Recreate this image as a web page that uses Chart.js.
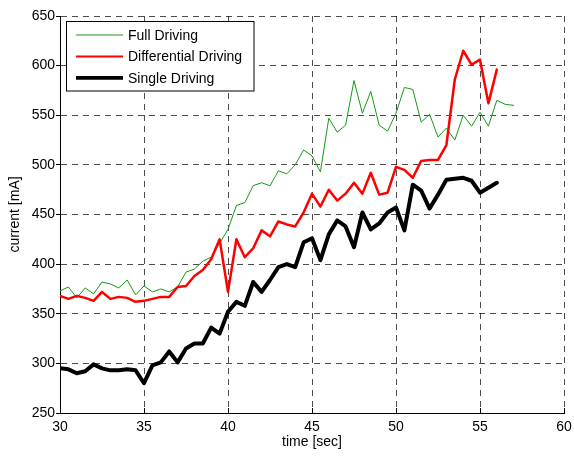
<!DOCTYPE html>
<html>
<head>
<meta charset="utf-8">
<script src="https://cdn.jsdelivr.net/npm/chart.js@4"></script>
<style>
  html, body { margin: 0; padding: 0; background: #fff; }
  canvas { display: block; }
</style>
</head>
<body>
<canvas id="chart" width="574" height="457"></canvas>
<script>
// time axis, 0.5 s sampling
const timeFull = [30, 30.5, 31, 31.5, 32, 32.5, 33, 33.5, 34, 34.5, 35, 35.5, 36, 36.5, 37, 37.5,
  38, 38.5, 39, 39.5, 40, 40.5, 41, 41.5, 42, 42.5, 43, 43.5, 44, 44.5, 45, 45.5, 46, 46.5, 47, 47.5,
  48, 48.5, 49, 49.5, 50, 50.5, 51, 51.5, 52, 52.5, 53, 53.5, 54, 54.5, 55, 55.5, 56, 56.5, 57];
const timeShort = timeFull.slice(0, 53); // 30 .. 56

// current [mA]
const fullDriving = [373, 377, 366, 376, 370, 382, 380, 376, 384, 369, 378, 372, 375, 372, 377, 392,
  395, 403, 407, 421, 435, 459, 462, 479, 482, 479, 494, 491, 500, 515, 509, 493, 547, 533, 540, 585,
  552, 574, 540, 534, 552, 578, 576, 543, 551, 528, 537, 525, 550, 539, 553, 539, 565, 561, 560];
const differentialDriving = [368, 365, 368, 366, 363, 372, 365, 367, 366, 362, 363, 365, 367, 367, 377, 378,
  388, 394, 405, 425, 372, 425, 407, 416, 434, 428, 443, 440, 438, 452, 471, 458, 475, 464, 471, 482,
  471, 492, 470, 472, 498, 495, 487, 504, 505, 505, 520, 586, 615, 601, 606, 562, 596];
const singleDriving = [295, 294, 290, 292, 299, 295, 293, 293, 294, 293, 280, 298, 301, 312, 301, 315,
  320, 320, 336, 330, 352, 362, 358, 382, 372, 384, 397, 400, 397, 422, 426, 404, 430, 444, 438, 417,
  452, 435, 441, 452, 457, 434, 480, 474, 456, 470, 485, 486, 487, 484, 472, 477, 482];

const xTickMin = 30, xTickMax = 60, xStep = 5;
const yTickMin = 250, yTickMax = 650, yStep = 50;

const FONT = "'Liberation Sans', Arial, Helvetica, sans-serif";

function toPoints(xs, ys) {
  return ys.map((y, i) => ({ x: xs[i], y: y }));
}

// MATLAB-like legend box in the upper left corner
const boxLegend = {
  id: 'boxLegend',
  afterDraw(chart) {
    const ctx = chart.ctx;
    const entries = [...chart.data.datasets].sort((a, b) => b.order - a.order);
    ctx.save();
    ctx.fillStyle = '#fff';
    ctx.fillRect(67, 22, 187, 69);
    ctx.strokeStyle = '#000';
    ctx.lineWidth = 1;
    ctx.strokeRect(66.5, 21.5, 187.5, 69.5);
    ctx.font = '14px ' + FONT;
    ctx.textBaseline = 'middle';
    ctx.textAlign = 'left';
    entries.forEach((ds, i) => {
      const y = 35 + i * 21.4;
      ctx.strokeStyle = ds.borderColor;
      ctx.lineWidth = ds.legendWidth;
      ctx.beginPath();
      ctx.moveTo(76, y);
      ctx.lineTo(123, y);
      ctx.stroke();
      ctx.fillStyle = '#000';
      ctx.fillText(ds.label, 128, y + 1);
    });
    ctx.restore();
  }
};

// short inward tick marks on the x axis
const innerTicks = {
  id: 'innerTicks',
  afterDraw(chart) {
    const ctx = chart.ctx;
    const xs = chart.scales.x;
    const bottom = chart.chartArea.bottom;
    ctx.save();
    ctx.strokeStyle = '#000';
    ctx.lineWidth = 1;
    xs.ticks.forEach(t => {
      const px = Math.round(xs.getPixelForValue(t.value)) + 0.5;
      ctx.beginPath();
      ctx.moveTo(px, bottom);
      ctx.lineTo(px, bottom - 5);
      ctx.stroke();
    });
    ctx.restore();
  }
};

new Chart(document.getElementById('chart').getContext('2d'), {
  type: 'line',
  data: {
    datasets: [
      {
        label: 'Full Driving',
        data: toPoints(timeFull, fullDriving),
        borderColor: '#159915',
        borderWidth: 1,
        legendWidth: 1,
        order: 3
      },
      {
        label: 'Differential Driving',
        data: toPoints(timeShort, differentialDriving),
        borderColor: '#ff0000',
        borderWidth: 2.5,
        legendWidth: 2,
        order: 2
      },
      {
        label: 'Single Driving',
        data: toPoints(timeShort, singleDriving),
        borderColor: '#000000',
        borderWidth: 4,
        legendWidth: 3.7,
        order: 1
      }
    ]
  },
  options: {
    responsive: false,
    animation: false,
    devicePixelRatio: 1,
    layout: { padding: { left: 0, right: 10, top: 16, bottom: 0 } },
    elements: {
      point: { radius: 0 },
      line: { tension: 0, borderJoinStyle: 'round', borderCapStyle: 'round', fill: false }
    },
    plugins: {
      legend: { display: false },
      tooltip: { enabled: false }
    },
    scales: {
      x: {
        type: 'linear',
        min: xTickMin,
        max: xTickMax,
        afterFit: s => { s.height = 44; s.paddingRight = 8; s.paddingLeft = 8; },
        ticks: {
          stepSize: xStep,
          color: '#000',
          padding: 6,
          maxRotation: 0,
          font: { family: FONT, size: 14 }
        },
        grid: {
          color: 'rgba(0,0,0,0.7)',
          lineWidth: 1,
          drawTicks: false
        },
        border: { display: true, color: '#000', width: 1, dash: [6, 5] },
        title: {
          display: true,
          text: 'time [sec]',
          color: '#000',
          font: { family: FONT, size: 14 },
          padding: { top: 0, bottom: 6 }
        }
      },
      y: {
        min: yTickMin,
        max: yTickMax,
        afterFit: s => { s.width = 60; },
        ticks: {
          stepSize: yStep,
          color: '#000',
          padding: 1,
          font: { family: FONT, size: 14 }
        },
        grid: {
          color: 'rgba(0,0,0,0.7)',
          lineWidth: 1,
          drawTicks: true,
          tickLength: 4,
          tickColor: '#000',
          tickBorderDash: []
        },
        border: { display: true, color: '#000', width: 1, dash: [6, 5] },
        title: {
          display: true,
          text: 'current [mA]',
          color: '#000',
          font: { family: FONT, size: 14 },
          padding: { top: 7, bottom: 0 }
        }
      }
    }
  },
  plugins: [boxLegend, innerTicks]
});
</script>
</body>
</html>
